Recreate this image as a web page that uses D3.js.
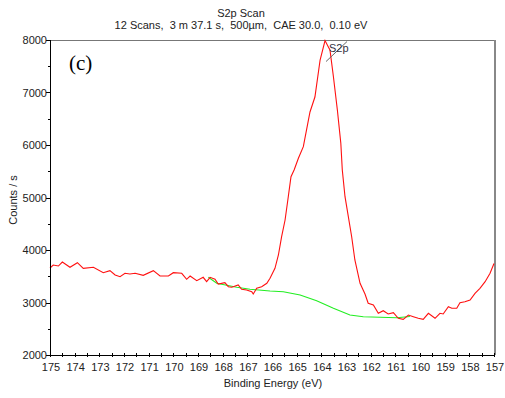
<!DOCTYPE html>
<html>
<head>
<meta charset="utf-8">
<script src="https://cdn.jsdelivr.net/npm/d3@7"></script>
<style>
  body { margin: 0; background: #fff; }
  text { font-family: "Liberation Sans", Arial, sans-serif; fill: #222; }
</style>
</head>
<body>
<div id="chart"></div>
<script>
(function () {
    var width = 505, height = 398;
    var margin = {left: 50, right: 11, top: 40, bottom: 43};

    // measured spectrum (binding energy eV, counts/s)
    var redEnergy = [175.00, 174.87, 174.66, 174.50, 174.19, 173.89, 173.65, 173.24, 172.84, 172.57,
        172.36, 172.16, 171.96, 171.76, 171.55, 171.22, 170.81, 170.54, 170.20, 170.00,
        169.66, 169.46, 169.32, 169.05, 168.79, 168.65, 168.51, 168.31, 168.18, 167.91,
        167.77, 167.63, 167.37, 167.23, 167.03, 166.82, 166.76, 166.62, 166.42, 166.21,
        166.08, 165.88, 165.74, 165.61, 165.47, 165.34, 165.23, 165.10, 164.93, 164.73,
        164.46, 164.26, 164.05, 163.85, 163.72, 163.65, 163.51, 163.35, 163.21, 163.15,
        163.04, 162.77, 162.64, 162.43, 162.23, 162.10, 161.89, 161.69, 161.49, 161.29,
        161.08, 160.88, 160.68, 160.47, 160.27, 160.07, 159.87, 159.66, 159.39, 159.19,
        159.06, 158.85, 158.71, 158.51, 158.38, 158.18, 157.97, 157.77, 157.57, 157.36,
        157.16, 157.00];
    var redCounts = [3657, 3714, 3695, 3771, 3670, 3758, 3651, 3670, 3568, 3606,
        3524, 3491, 3556, 3543, 3556, 3518, 3606, 3505, 3505, 3568,
        3556, 3442, 3505, 3415, 3480, 3396, 3480, 3442, 3352, 3377,
        3301, 3290, 3333, 3251, 3238, 3206, 3162, 3270, 3301, 3366,
        3461, 3651, 3905, 4253, 4571, 5015, 5396, 5530, 5747, 5968,
        6629, 6914, 7619, 7990, 7872, 7810, 7301, 6667, 6033, 5524,
        5015, 4253, 3810, 3366, 3162, 2985, 2952, 2794, 2844, 2781,
        2806, 2699, 2680, 2762, 2730, 2699, 2680, 2794, 2699, 2794,
        2781, 2920, 2890, 2890, 2996, 3015, 3048, 3175, 3271, 3396,
        3556, 3743];

    // background (green)
    var bgEnergy = [168.58, 168.24, 167.43, 166.89, 166.08, 165.54, 164.86, 164.19, 163.51, 162.84, 162.30, 160.94, 160.41];
    var bgCounts = [3480, 3366, 3290, 3251, 3219, 3206, 3143, 3034, 2890, 2762, 2730, 2710, 2733];

    var xTicks = d3.range(175, 156, -1);
    var xMinorTicks = d3.range(175, 156.9, -0.5);
    var yTicks = [2000, 3000, 4000, 5000, 6000, 7000, 8000];
    var yMinorTicks = [2500, 3500, 4500, 5500, 6500, 7500];

    var svg = d3.select("#chart").append("svg")
        .attr("width", width)
        .attr("height", height);

    var x = d3.scaleLinear().domain([175, 157]).range([margin.left, width - margin.right]);
    var y = d3.scaleLinear().domain([2000, 8000]).range([height - margin.bottom, margin.top]);

    // frame: top / right grey
    svg.append("line").attr("x1", x(175)).attr("x2", x(157)).attr("y1", y(8000)).attr("y2", y(8000))
        .attr("stroke", "#777").attr("stroke-width", 1).attr("shape-rendering", "crispEdges");
    svg.append("line").attr("x1", x(157) + 0.5).attr("x2", x(157) + 0.5).attr("y1", y(8000)).attr("y2", y(2000))
        .attr("stroke", "#888").attr("stroke-width", 2).attr("shape-rendering", "crispEdges");

    var line = d3.line().x(d => x(d[0])).y(d => y(d[1]));

    svg.append("path")
        .attr("d", line(d3.zip(bgEnergy, bgCounts)))
        .attr("fill", "none").attr("stroke", "#22ee22").attr("stroke-width", 1.1);

    svg.append("path")
        .attr("d", line(d3.zip(redEnergy, redCounts)))
        .attr("fill", "none").attr("stroke", "#ff1010").attr("stroke-width", 1.1);

    // x axis
    var xAxis = svg.append("g").attr("transform", "translate(0," + y(2000) + ")");
    xAxis.append("line").attr("x1", x(175)).attr("x2", x(157))
        .attr("stroke", "#000").attr("shape-rendering", "crispEdges");
    xAxis.selectAll(".xt").data(xMinorTicks).enter().append("line")
        .attr("x1", d => Math.round(x(d)) + 0.5).attr("x2", d => Math.round(x(d)) + 0.5)
        .attr("y1", -2).attr("y2", 2).attr("stroke", "#000");
    xAxis.selectAll(".xl").data(xTicks).enter().append("text")
        .attr("x", d => x(d) + 1).attr("y", 16)
        .attr("text-anchor", "middle").attr("font-size", 11)
        .text(d => d);

    // y axis
    var yAxis = svg.append("g").attr("transform", "translate(" + x(175) + ",0)");
    yAxis.append("line").attr("y1", y(2000)).attr("y2", y(8000))
        .attr("stroke", "#000").attr("shape-rendering", "crispEdges");
    yAxis.selectAll(".yt").data(yTicks).enter().append("line")
        .attr("y1", d => Math.round(y(d)) + 0.5).attr("y2", d => Math.round(y(d)) + 0.5)
        .attr("x1", -4).attr("x2", 0).attr("stroke", "#000");
    yAxis.selectAll(".ym").data(yMinorTicks).enter().append("line")
        .attr("y1", d => Math.round(y(d)) + 0.5).attr("y2", d => Math.round(y(d)) + 0.5)
        .attr("x1", -2).attr("x2", 0).attr("stroke", "#000");
    yAxis.selectAll(".yl").data(yTicks).enter().append("text")
        .attr("x", -3).attr("y", d => y(d) + 4)
        .attr("text-anchor", "end").attr("font-size", 11)
        .text(d => d);

    // titles
    svg.append("text").attr("x", 241).attr("y", 17).attr("text-anchor", "middle")
        .attr("font-size", 11).text("S2p Scan");
    svg.append("text").attr("x", 241).attr("y", 29).attr("text-anchor", "middle")
        .attr("font-size", 11).style("white-space", "pre")
        .text("12 Scans,  3 m 37.1 s,  500\u00b5m,  CAE 30.0,  0.10 eV");
    svg.append("text").attr("x", 273).attr("y", 387).attr("text-anchor", "middle")
        .attr("font-size", 11).text("Binding Energy (eV)");
    svg.append("text").attr("transform", "translate(17,200) rotate(-90)")
        .attr("text-anchor", "middle").attr("font-size", 11).text("Counts / s");

    // panel label
    svg.append("text").attr("x", 69).attr("y", 70)
        .style("font-family", "'Liberation Serif', 'Times New Roman', serif")
        .attr("font-size", 21).style("fill", "#000").text("(c)");

    // peak annotation
    var peakE = 163.85, peakC = 7990;
    svg.append("line")
        .attr("x1", x(peakE) + 1).attr("y1", y(peakC) + 21)
        .attr("x2", x(peakE) + 22).attr("y2", y(peakC) + 1)
        .attr("stroke", "#666").attr("stroke-width", 1);
    svg.append("text").attr("x", x(peakE) + 4).attr("y", y(peakC) + 11)
        .attr("font-size", 11).style("fill", "#334").text("S2p");
})();
</script>
</body>
</html>
